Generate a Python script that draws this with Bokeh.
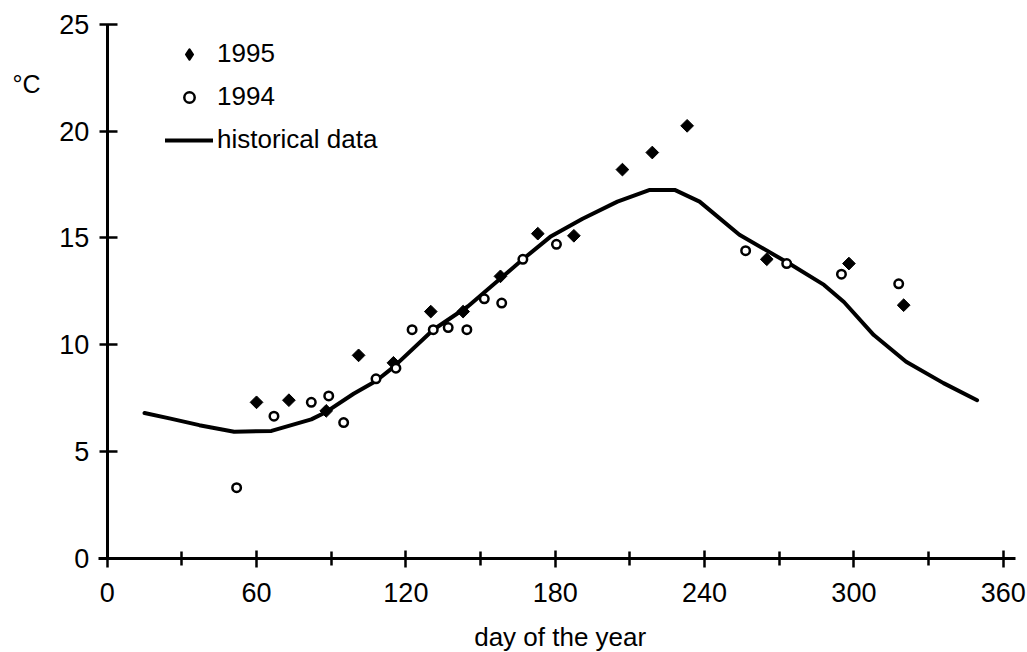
from bokeh.plotting import figure
from bokeh.models import Range1d, FixedTicker, Legend, LegendItem, Label
from bokeh.embed import file_html
from bokeh.resources import INLINE
import math

days_1995 = [60, 73, 88, 101, 115, 130, 143, 158, 173, 187.5, 207, 219, 233, 265, 298, 320]
temp_1995 = [7.3, 7.4, 6.9, 9.5, 9.15, 11.55, 11.55, 13.2, 15.2, 15.1, 18.2, 19.0, 20.25, 14.0, 13.8, 11.85]

days_1994 = [52, 67, 82, 89, 95, 108, 116, 122.5, 131, 137, 144.5, 151.5, 158.5, 167, 180.5, 256.5, 273, 295, 318]
temp_1994 = [3.3, 6.65, 7.3, 7.6, 6.35, 8.4, 8.9, 10.7, 10.7, 10.8, 10.7, 12.15, 11.95, 14.0, 14.7, 14.4, 13.8, 13.3, 12.85]

hist_day = [15, 25, 37, 51, 66, 82, 88, 99, 108, 115, 131, 145, 158, 167, 178, 191, 205, 218, 228, 238, 254, 274, 288, 296, 308, 321, 336, 349.5]
hist_temp = [6.8, 6.55, 6.23, 5.92, 5.96, 6.5, 6.85, 7.7, 8.3, 8.95, 10.7, 11.8, 13.1, 14.0, 15.05, 15.9, 16.7, 17.25, 17.25, 16.7, 15.15, 13.8, 12.8, 12.0, 10.45, 9.2, 8.2, 7.4]

x_major = [0, 60, 120, 180, 240, 300, 360]
x_minor = [30, 90, 150, 210, 270, 330]
y_major = [0, 5, 10, 15, 20, 25]

FONT = "Liberation Sans"
INK = "black"

p = figure(width=1027, height=652, output_backend="svg", toolbar_location=None,
           x_range=Range1d(-42.87, 369.75), y_range=Range1d(-4.417, 26.12),
           min_border_left=0, min_border_right=0, min_border_top=0, min_border_bottom=0)
p.outline_line_color = None
p.grid.visible = False
p.background_fill_color = "white"
p.border_fill_color = "white"

line_r = p.line(hist_day, hist_temp, line_color=INK, line_width=4, line_join="round", line_cap="round")
# tiny diamonds under the data markers: only used as the (unrotated) legend key for 1995
key95 = p.scatter(days_1995, temp_1995, marker="diamond", size=0.1,
                  fill_color=INK, line_color=INK, line_width=2.2, line_join="round")
r95 = p.scatter(days_1995, temp_1995, marker="square", size=9, angle=math.pi / 4,
                fill_color=INK, line_color=INK, line_width=1)
r94 = p.scatter(days_1994, temp_1994, marker="circle", size=8.5, fill_color="white",
                line_color=INK, line_width=2.5)

xa = p.xaxis[0]
xa.fixed_location = 0
xa.ticker = FixedTicker(ticks=x_major, minor_ticks=x_minor)
xa.bounds = (-3.5, 364.9)
xa.axis_line_width = 3
xa.axis_line_color = INK
xa.major_tick_line_color = INK
xa.minor_tick_line_color = INK
xa.major_tick_line_width = 2.5
xa.minor_tick_line_width = 2.5
xa.major_tick_in = 8
xa.major_tick_out = 9
xa.minor_tick_in = 7
xa.minor_tick_out = 7
xa.major_label_text_font = FONT
xa.major_label_text_font_size = "27px"
xa.major_label_text_color = INK
xa.major_label_standoff = 16

ya = p.yaxis[0]
ya.fixed_location = 0
ya.ticker = FixedTicker(ticks=y_major, minor_ticks=[])
ya.bounds = (0, 25)
ya.axis_line_width = 3
ya.axis_line_color = INK
ya.major_tick_line_color = INK
ya.major_tick_line_width = 2.5
ya.major_tick_in = 10
ya.major_tick_out = 8
ya.major_label_text_font = FONT
ya.major_label_text_font_size = "27px"
ya.major_label_text_color = INK
ya.major_label_standoff = 10

p.add_layout(Label(x=-32.4, y=22.2, text="°C",
                   text_font=FONT, text_font_size="25px", text_color=INK,
                   text_align="center", text_baseline="middle"))
p.add_layout(Label(x=182, y=-3.67, text="day of the year",
                   text_font=FONT, text_font_size="26px", text_color=INK,
                   text_align="center", text_baseline="middle"))

legend = Legend(items=[LegendItem(label="1995", renderers=[key95]),
                       LegendItem(label="1994", renderers=[r94]),
                       LegendItem(label="historical data", renderers=[line_r])],
                location=(165, 497), glyph_width=48, glyph_height=26, label_height=26,
                spacing=12, padding=0, margin=0, label_standoff=4,
                label_text_font=FONT, label_text_font_size="26px", label_text_color=INK,
                border_line_color=None, background_fill_alpha=0)
p.add_layout(legend)

open("out.html", "w").write(file_html(p, INLINE))
